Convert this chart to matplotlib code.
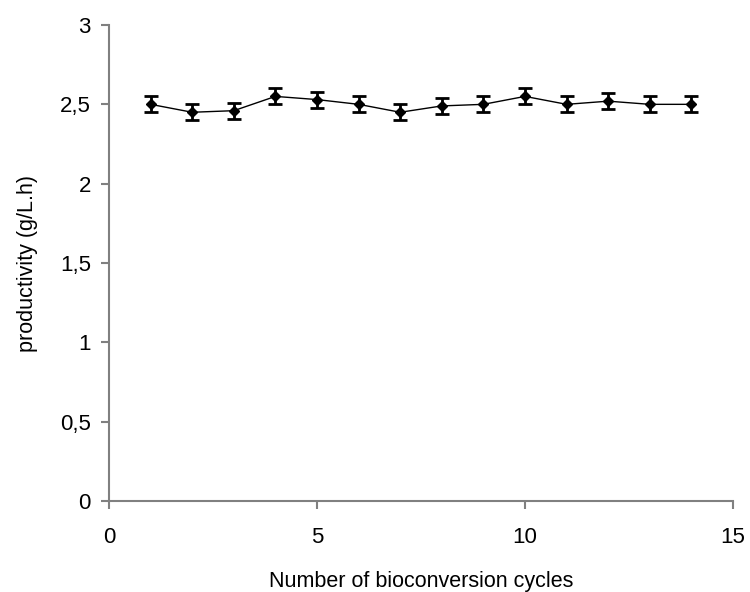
import matplotlib
matplotlib.use("Agg")
import matplotlib.pyplot as plt
from matplotlib.ticker import FixedLocator, FixedFormatter

cycles = [1, 2, 3, 4, 5, 6, 7, 8, 9, 10, 11, 12, 13, 14]
productivity = [2.50, 2.45, 2.46, 2.55, 2.53, 2.50, 2.45, 2.49, 2.50, 2.55, 2.50, 2.52, 2.50, 2.50]
errors = [0.05] * 14
xticks = [0, 5, 10, 15]
yticks = [0, 0.5, 1, 1.5, 2, 2.5, 3]
ytick_labels = ["0", "0,5", "1", "1,5", "2", "2,5", "3"]

plt.rcParams['font.family'] = ['Liberation Sans', 'DejaVu Sans']

fig = plt.figure(figsize=(7.5, 5.92), dpi=100)
ax = fig.add_axes([109/750, 1-501/592, (733-109)/750, (501-25)/592])

ax.errorbar(cycles, productivity, yerr=errors, color='black', lw=1.0,
            marker='D', markersize=5, capsize=5, capthick=2, elinewidth=2)

ax.set_xlim(0, 15)
ax.set_ylim(0, 3)
ax.xaxis.set_major_locator(FixedLocator(xticks))
ax.yaxis.set_major_locator(FixedLocator(yticks))
ax.yaxis.set_major_formatter(FixedFormatter(ytick_labels))

for s in ['top', 'right']:
    ax.spines[s].set_visible(False)
for s in ['left', 'bottom']:
    ax.spines[s].set_color('#808080')
    ax.spines[s].set_linewidth(1.5)
ax.tick_params(axis='both', direction='out', length=6, width=1.5, color='#808080',
               labelsize=16, pad=7)
ax.tick_params(axis='x', pad=13)

ax.set_xlabel('Number of bioconversion cycles', fontsize=15.5, labelpad=16)
ax.set_ylabel('productivity (g/L.h)', fontsize=15.5, labelpad=16)

fig.savefig('out.png', dpi=100)
